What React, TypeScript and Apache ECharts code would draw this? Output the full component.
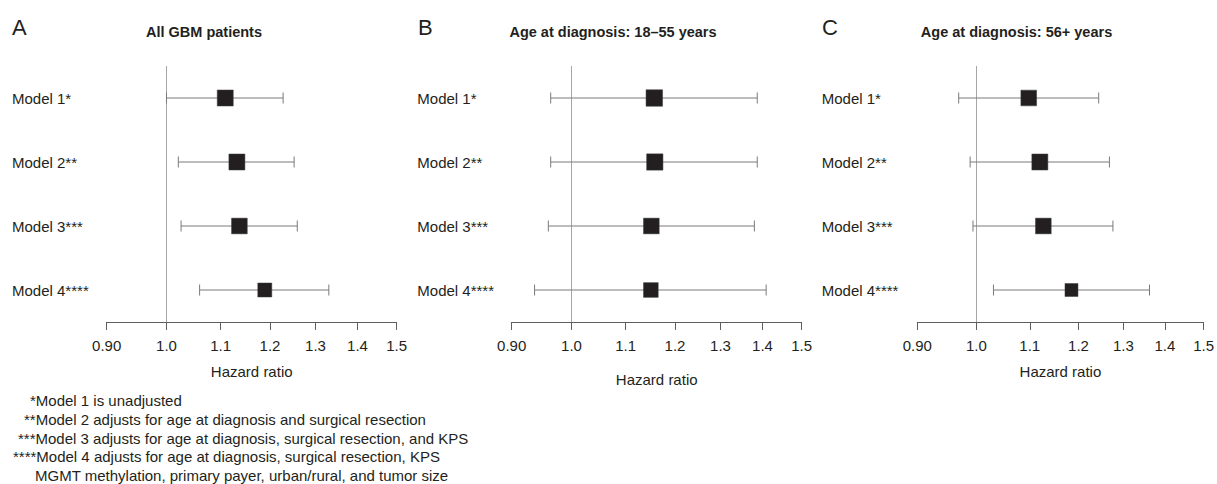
import React, { useEffect, useRef } from 'react';
import * as echarts from 'echarts';

const models = ['Model 1*', 'Model 2**', 'Model 3***', 'Model 4****'];
const panelLetters = ['A', 'B', 'C'];
const panelTitles = ['All GBM patients', 'Age at diagnosis: 18\u201355 years', 'Age at diagnosis: 56+ years'];
const tickValues = [0.9, 1.0, 1.1, 1.2, 1.3, 1.4, 1.5];
const tickLabels = ['0.90', '1.0', '1.1', '1.2', '1.3', '1.4', '1.5'];
const axisTitle = 'Hazard ratio';
const refValue = 1.0;

// Panel A: All GBM patients
const estA = [1.109, 1.132, 1.137, 1.189];
const lowA = [1.0, 1.021, 1.026, 1.06];
const highA = [1.228, 1.252, 1.259, 1.331];
const weightA = [16, 16, 15.7, 14];

// Panel B: 18-55 years
const estB = [1.157, 1.158, 1.151, 1.15];
const lowB = [0.964, 0.964, 0.96, 0.937];
const highB = [1.387, 1.387, 1.38, 1.409];
const weightB = [16.5, 16.3, 15.7, 14.7];

// Panel C: 56+ years
const estC = [1.098, 1.12, 1.127, 1.185];
const lowC = [0.969, 0.989, 0.994, 1.031];
const highC = [1.244, 1.268, 1.276, 1.362];
const weightC = [15.7, 16, 15.7, 13];

const footnotes = [
  '*Model 1 is unadjusted',
  '**Model 2 adjusts for age at diagnosis and surgical resection',
  '***Model 3 adjusts for age at diagnosis, surgical resection, and KPS',
  '****Model 4 adjusts for age at diagnosis, surgical resection, KPS',
  'MGMT methylation, primary payer, urban/rural, and tumor size',
];

const FONT = '"Liberation Sans", Arial, Helvetica, sans-serif';
const TEXT = '#231f20';

export default function App() {
  const ref = useRef<HTMLDivElement>(null);

  useEffect(() => {
    document.body.style.margin = '0';
    if (!ref.current) return;
    const chart = echarts.init(ref.current, null, { renderer: 'svg' });

    const panels = [
      { est: estA, low: lowA, high: highA, w: weightA },
      { est: estB, low: lowB, high: highB, w: weightB },
      { est: estC, low: lowC, high: highC, w: weightC },
    ];
    const gridLeft = [106.7, 511.7, 917.3];
    const nameGaps = [42, 49.5, 42];
    const labelMargins = [94.7, 94.4, 95.6];
    const letterX = [12, 418, 822];
    const titleX = [204, 613, 1016.5];
    const footX = [30, 24, 18, 13, 35];
    const footY = [400, 419.3, 438.3, 456.7, 475];

    const grid = panels.map((_, i) => ({
      left: gridLeft[i],
      top: 66,
      width: 290,
      height: 256,
    }));

    const logTicks = tickValues.map((v) => Math.log(v));

    const xAxis = panels.map((_, i) => ({
      type: 'value',
      gridIndex: i,
      min: Math.log(tickValues[0]),
      max: Math.log(tickValues[tickValues.length - 1]),
      splitLine: { show: false },
      axisLine: { show: true, lineStyle: { color: '#5e5e5e', width: 1 } },
      axisTick: {
        show: true,
        length: 8,
        customValues: logTicks,
        lineStyle: { color: '#5e5e5e', width: 1 },
      },
      axisLabel: {
        customValues: logTicks,
        formatter: (val: number) => {
          let best = 0;
          logTicks.forEach((t, k) => {
            if (Math.abs(t - val) < Math.abs(logTicks[best] - val)) best = k;
          });
          return tickLabels[best];
        },
        fontSize: 15,
        color: TEXT,
        fontFamily: FONT,
        margin: 16,
      },
      name: axisTitle,
      nameLocation: 'middle',
      nameGap: nameGaps[i],
      nameTextStyle: { fontSize: 15, color: TEXT, fontFamily: FONT },
    }));

    const yAxis = panels.map((_, i) => ({
      type: 'category',
      gridIndex: i,
      data: models,
      inverse: true,
      axisLine: { show: false },
      axisTick: { show: false },
      splitLine: { show: false },
      axisLabel: {
        align: 'left',
        margin: labelMargins[i],
        fontSize: 15,
        color: TEXT,
        fontFamily: FONT,
      },
    }));

    const series = panels.map((p, i) => ({
      type: 'custom',
      xAxisIndex: i,
      yAxisIndex: i,
      data: models.map((_, k) => [
        Math.log(p.est[k]),
        k,
        Math.log(p.low[k]),
        Math.log(p.high[k]),
        p.w[k],
      ]),
      encode: { x: 0, y: 1 },
      renderItem: (params: any, api: any) => {
        const y = api.value(1);
        const lo = api.coord([api.value(2), y]);
        const hi = api.coord([api.value(3), y]);
        const mid = api.coord([api.value(0), y]);
        const s = api.value(4);
        const whisker = { stroke: '#7a7a7a', lineWidth: 1 };
        return {
          type: 'group',
          children: [
            { type: 'line', shape: { x1: lo[0], y1: lo[1], x2: hi[0], y2: hi[1] }, style: whisker },
            { type: 'line', shape: { x1: lo[0], y1: lo[1] - 5.5, x2: lo[0], y2: lo[1] + 5.5 }, style: whisker },
            { type: 'line', shape: { x1: hi[0], y1: hi[1] - 5.5, x2: hi[0], y2: hi[1] + 5.5 }, style: whisker },
            {
              type: 'rect',
              shape: { x: mid[0] - s / 2, y: mid[1] - s / 2, width: s, height: s },
              style: { fill: TEXT, stroke: '#3a3a3a', lineWidth: 0.5 },
            },
          ],
        };
      },
      markLine: {
        silent: true,
        symbol: ['none', 'none'],
        label: { show: false },
        lineStyle: { color: '#a6a6a6', type: 'solid', width: 1 },
        data: [{ xAxis: Math.log(refValue) }],
        z: 1,
      },
      z: 3,
    }));

    const graphic: any[] = [];
    panelLetters.forEach((l, i) => {
      graphic.push({
        type: 'text',
        x: letterX[i],
        y: 27.5,
        style: { text: l, fontSize: 22, fill: TEXT, fontFamily: FONT, textVerticalAlign: 'middle', textAlign: 'left' },
      });
      graphic.push({
        type: 'text',
        x: titleX[i],
        y: 32,
        style: {
          text: panelTitles[i],
          fontSize: 14.5,
          fontWeight: 'bold',
          fill: TEXT,
          fontFamily: FONT,
          textVerticalAlign: 'middle',
          textAlign: 'center',
        },
      });
    });
    footnotes.forEach((f, i) => {
      graphic.push({
        type: 'text',
        x: footX[i],
        y: footY[i],
        style: { text: f, fontSize: 15, fill: TEXT, fontFamily: FONT, textVerticalAlign: 'middle', textAlign: 'left' },
      });
    });

    chart.setOption({
      animation: false,
      backgroundColor: '#ffffff',
      textStyle: { fontFamily: FONT },
      grid,
      xAxis,
      yAxis,
      series,
      graphic,
    } as any);

    return () => chart.dispose();
  }, []);

  return <div ref={ref} style={{ width: 1217, height: 484 }} />;
}
